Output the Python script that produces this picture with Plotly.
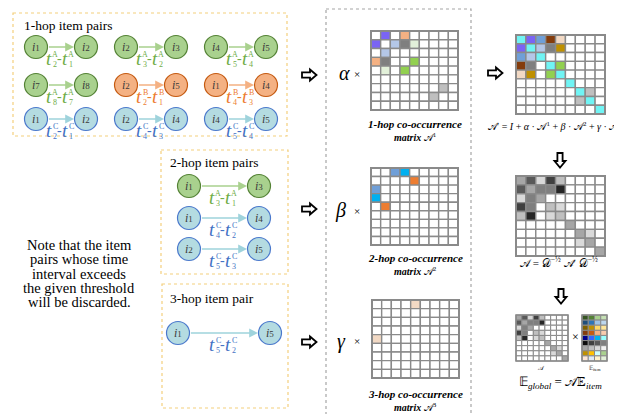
import plotly.graph_objects as go

W, H = 622, 414
SERIF = "Liberation Serif, Times New Roman, serif"

# ---------------- data ----------------
# 1-hop item pairs (source item, target item, sequence, time index of target, time index of source)
hop1_src = ["1", "2", "4", "7", "2", "1", "1", "2", "4"]
hop1_dst = ["2", "3", "5", "8", "5", "4", "2", "4", "5"]
hop1_seq = ["A", "A", "A", "A", "B", "B", "C", "C", "C"]
hop1_t_dst = ["2", "3", "5", "8", "2", "4", "2", "4", "5"]
hop1_t_src = ["1", "2", "4", "7", "1", "3", "1", "3", "4"]

hop2_src = ["1", "1", "2"]
hop2_dst = ["3", "4", "5"]
hop2_seq = ["A", "C", "C"]
hop2_t_dst = ["3", "4", "5"]
hop2_t_src = ["1", "2", "3"]

hop3_src = ["1"]
hop3_dst = ["5"]
hop3_seq = ["C"]
hop3_t_dst = ["5"]
hop3_t_src = ["2"]

box_titles = ["1-hop item pairs", "2-hop item pairs", "3-hop item pair"]
note_lines = ["Note that the item", "pairs whose time", "interval exceeds",
              "the given threshold", "will be discarded."]

# co-occurrence matrices (9x9): highlighted cells
m1_rows = [0, 0, 1, 1, 1, 1, 2, 3, 3, 3, 4, 4, 6, 7]
m1_cols = [1, 3, 0, 2, 3, 4, 1, 0, 1, 4, 1, 3, 7, 6]
m1_colors = ["#7a64f4", "#f4b183", "#7a64f4", "#b4c7e7", "#7f7f7f", "#e2f0d9", "#b4c7e7",
             "#f4b183", "#7f7f7f", "#92d050", "#e2f0d9", "#92d050", "#bfbfbf", "#bfbfbf"]

m2_rows = [0, 0, 1, 2, 3, 4]
m2_cols = [2, 3, 4, 0, 0, 1]
m2_colors = ["#6f9fd8", "#00b0f0", "#ed7d31", "#6f9fd8", "#00b0f0", "#ed7d31"]

m3_rows = [0, 4]
m3_cols = [4, 0]
m3_colors = ["#f2d9c4", "#f2d9c4"]

# A' = I + a*A1 + b*A2 + g*A3
ma_rows = [0, 1, 2, 3, 4, 5, 6, 7, 8, 0, 1, 0, 2, 0, 3, 0, 4, 1, 2, 1, 3, 1, 4, 3, 4, 6, 7]
ma_cols = [0, 1, 2, 3, 4, 5, 6, 7, 8, 1, 0, 2, 0, 3, 0, 4, 0, 2, 1, 3, 1, 4, 1, 4, 3, 7, 6]
ma_colors = ["#70f4f4"] * 9 + ["#7a64f4", "#7a64f4", "#6f9fd8", "#6f9fd8", "#843c0c", "#843c0c",
                               "#f2d9c4", "#f2d9c4", "#b4c7e7", "#b4c7e7", "#7f7f7f", "#7f7f7f",
                               "#bf9000", "#bf9000", "#92d050", "#92d050", "#bfbfbf", "#bfbfbf"]

# normalized A (grayscale)
mn_rows = [0, 0, 0, 0, 0, 1, 1, 1, 1, 1, 2, 2, 2, 3, 3, 3, 3, 4, 4, 4, 4, 5, 6, 6, 7, 7, 8]
mn_cols = [0, 1, 2, 3, 4, 0, 1, 2, 3, 4, 0, 1, 2, 0, 1, 3, 4, 0, 1, 3, 4, 5, 6, 7, 6, 7, 8]
mn_colors = ["#a6a6a6", "#595959", "#d9d9d9", "#404040", "#bfbfbf",
             "#595959", "#a6a6a6", "#7f7f7f", "#7f7f7f", "#262626",
             "#d9d9d9", "#7f7f7f", "#a6a6a6",
             "#404040", "#7f7f7f", "#bfbfbf", "#d9d9d9",
             "#bfbfbf", "#262626", "#d9d9d9", "#bfbfbf",
             "#a6a6a6", "#a6a6a6", "#d9d9d9", "#d9d9d9", "#a6a6a6", "#a6a6a6"]

# item embedding matrix E_item (9 items x 4 dims)
e_item_colors = [
    ["#375623", "#548235", "#a9d18e", "#c5e0b4"],
    ["#1f4e79", "#2e75b6", "#9dc3e6", "#bdd7ee"],
    ["#7f6000", "#bf9000", "#ffd966", "#ffe699"],
    ["#843c0c", "#c55a11", "#f4b183", "#f8cbad"],
    ["#00008b", "#3366ff", "#00b0f0", "#99ffff"],
    ["#0d0d0d", "#404040", "#595959", "#7f7f7f"],
    ["#a6a6a6", "#bfbfbf", "#d9d9d9", "#f2f2f2"],
    ["#bf9000", "#ffc000", "#ccffff", "#a9d18e"],
    ["#fbe5d6", "#deebf7", "#fff2cc", "#e2f0d9"],
]

# ---------------- styles ----------------
STY = {
    "A": dict(fill="#a9d18e", line="#548235", arrow="#a9d18e", text="#70ad47"),
    "B": dict(fill="#f4b183", line="#c55a11", arrow="#f4b183", text="#ed7d31"),
    "C": dict(fill="#b4dbe1", line="#4a78cc", arrow="#9fd3dc", text="#4472c4"),
}

shapes = []
annos = []


def txt(x, y, s, size, color="#000000", xanchor="center", family=SERIF):
    annos.append(dict(x=x, y=y, text=s, xref="x", yref="y", showarrow=False,
                      xanchor=xanchor, yanchor="middle", borderpad=0,
                      font=dict(family=family, size=size, color=color)))


def rect(x0, y0, x1, y1, fill="rgba(0,0,0,0)", line="#000", width=1, dash="solid"):
    shapes.append(dict(type="rect", xref="x", yref="y", x0=x0, y0=y0, x1=x1, y1=y1,
                       fillcolor=fill, line=dict(color=line, width=width, dash=dash)))


R = 11.5


def node(x, y, label, seq):
    s = STY[seq]
    shapes.append(dict(type="circle", xref="x", yref="y", x0=x - R, x1=x + R, y0=y - R, y1=y + R,
                       fillcolor=s["fill"], line=dict(color=s["line"], width=1.2)))
    txt(x, y, "<i>i</i><span style='font-size:9px'>" + label + "</span>", 12, "#3a3a3a")


def t_label(cx, cy, seq, a, b):
    c = STY[seq]["text"]
    txt(cx - 12, cy, "<i>t</i>", 19, c)
    txt(cx - 6, cy - 3.5, seq, 8, c)
    txt(cx - 6, cy + 6, a, 8, c)
    txt(cx - 1.5, cy, "-", 14, c)
    txt(cx + 4, cy, "<i>t</i>", 19, c)
    txt(cx + 10, cy - 3.5, seq, 8, c)
    txt(cx + 10, cy + 6, b, 8, c)


def pair(xs, xd, y, src, dst, seq, ta, tb):
    s = STY[seq]
    annos.append(dict(x=xd - R - 0.5, y=y, ax=xs + R, ay=y, xref="x", yref="y", axref="x", ayref="y",
                      text="", showarrow=True, arrowhead=2, arrowsize=1.1, arrowwidth=1.6,
                      arrowcolor=s["arrow"], standoff=0, startstandoff=0))
    node(xs, y, src, seq)
    node(xd, y, dst, seq)
    t_label((xs + xd) / 2, y + 11, seq, ta, tb)


def block_right(cx, cy):
    p = (f"M {cx-7},{cy-2.6} L {cx+1},{cy-2.6} L {cx+1},{cy-5.5} L {cx+7.5},{cy} "
         f"L {cx+1},{cy+5.5} L {cx+1},{cy+2.6} L {cx-7},{cy+2.6} Z")
    shapes.append(dict(type="path", xref="x", yref="y", path=p, fillcolor="white",
                       line=dict(color="black", width=1.8)))


def block_down(cx, cy):
    p = (f"M {cx-2.6},{cy-7} L {cx+2.6},{cy-7} L {cx+2.6},{cy+1} L {cx+5.5},{cy+1} L {cx},{cy+7.5} "
         f"L {cx-5.5},{cy+1} L {cx-2.6},{cy+1} Z")
    shapes.append(dict(type="path", xref="x", yref="y", path=p, fillcolor="white",
                       line=dict(color="black", width=1.8)))


def matrix(x0, y0, x1, y1, nr, nc, rows, cols, colors, grid="#8a8a8a", lw=1.4):
    cw = (x1 - x0) / nc
    ch = (y1 - y0) / nr
    cmap = {(r, c): col for r, c, col in zip(rows, cols, colors)}
    for r in range(nr):
        for c in range(nc):
            rect(x0 + c * cw, y0 + r * ch, x0 + (c + 1) * cw, y0 + (r + 1) * ch,
                 fill=cmap.get((r, c), "white"), line=grid, width=lw)
    rect(x0, y0, x1, y1, line=grid, width=lw + 0.6)


# ---------------- boxes ----------------
BOXC = "#f3cf7d"
rect(5, 5, 279, 128, line=BOXC, width=1.2, dash="dot")
rect(153, 142, 280, 266, line=BOXC, width=1.2, dash="dot")
rect(154, 276, 280, 400, line=BOXC, width=1.2, dash="dot")
rect(318, 1, 463, 407, line="#a6a6a6", width=1.2, dash="dot")

txt(15, 17, box_titles[0], 13.5, xanchor="left")
txt(161, 154, box_titles[1], 13.5, xanchor="left")
txt(161, 290, box_titles[2], 13.5, xanchor="left")

# 1-hop pairs
xl = [28, 118, 208]
xr = [78, 168, 258]
yrow = [39, 77, 111]
for k in range(len(hop1_src)):
    r, c = divmod(k, 3)
    pair(xl[c], xr[c], yrow[r], hop1_src[k], hop1_dst[k], hop1_seq[k], hop1_t_dst[k], hop1_t_src[k])

# 2-hop pairs
y2 = [178, 210, 241]
for k in range(len(hop2_src)):
    pair(181, 251, y2[k], hop2_src[k], hop2_dst[k], hop2_seq[k], hop2_t_dst[k], hop2_t_src[k])

# 3-hop pair
pair(170, 262, 325, hop3_src[0], hop3_dst[0], hop3_seq[0], hop3_t_dst[0], hop3_t_src[0])

# note
for i, line in enumerate(note_lines):
    txt(71, 237 + i * 14.3, line, 14.5)

# arrows
for y in [67, 201, 334]:
    block_right(301, y)
block_right(487, 65)
block_down(552, 152)
block_down(553, 288)

# coefficients
txt(336, 65, "<i>α</i>", 20)
txt(349, 66, "×", 11)
txt(332, 202, "<i>β</i>", 20)
txt(349, 203, "×", 11)
txt(333, 333, "<i>γ</i>", 20)
txt(349, 333, "×", 11)

# matrices
matrix(363, 23, 450, 102, 9, 9, m1_rows, m1_cols, m1_colors)
matrix(363, 160, 450, 237, 9, 9, m2_rows, m2_cols, m2_colors)
matrix(364, 292, 451, 370, 9, 9, m3_rows, m3_cols, m3_colors)
matrix(508, 27, 597, 106, 9, 9, ma_rows, ma_cols, ma_colors)
matrix(508, 168, 597, 248, 9, 9, mn_rows, mn_cols, mn_colors)
matrix(508, 307, 560, 353, 9, 9, mn_rows, mn_cols, mn_colors, lw=1.0)
e_r = [r for r in range(9) for c in range(4)]
e_c = [c for r in range(9) for c in range(4)]
e_col = [e_item_colors[r][c] for r in range(9) for c in range(4)]
matrix(574, 307, 599, 353, 9, 4, e_r, e_c, e_col, lw=1.0)

# captions
for (yy, n) in [(116, "1"), (250, "2"), (386, "3")]:
    txt(407, yy, f"<b><i>{n}-hop co-occurrence</i></b>", 11)
    txt(407, yy + 13, f"<b><i>matrix</i></b> 𝒜<sup>{n}</sup>", 10)

txt(479, 118, "𝒜′ = <i>I</i> + <i>α</i> · 𝒜<sup>1</sup> + <i>β</i> · 𝒜<sup>2</sup> + <i>γ</i> · 𝒜<sup>3</sup>",
    10, xanchor="left")
txt(551, 254, "𝒜 = 𝒟<sup>−½</sup> 𝒜′ 𝒟<sup>−½</sup>", 11)
txt(567, 329, "×", 12)
txt(533, 360, "𝒜", 6)
txt(587, 360, "𝔼<sub>item</sub>", 6)
txt(552, 374, "𝔼<sub><i>global</i></sub> = 𝒜𝔼<sub><i>item</i></sub>", 13)

fig = go.Figure(go.Scatter(x=[], y=[], mode="markers"))
fig.update_layout(
    width=W, height=H, margin=dict(l=0, r=0, t=0, b=0),
    paper_bgcolor="white", plot_bgcolor="white", showlegend=False,
    xaxis=dict(range=[0, W], visible=False, fixedrange=True),
    yaxis=dict(range=[H, 0], visible=False, fixedrange=True),
    shapes=shapes, annotations=annos,
)
fig.write_html("out.html")
